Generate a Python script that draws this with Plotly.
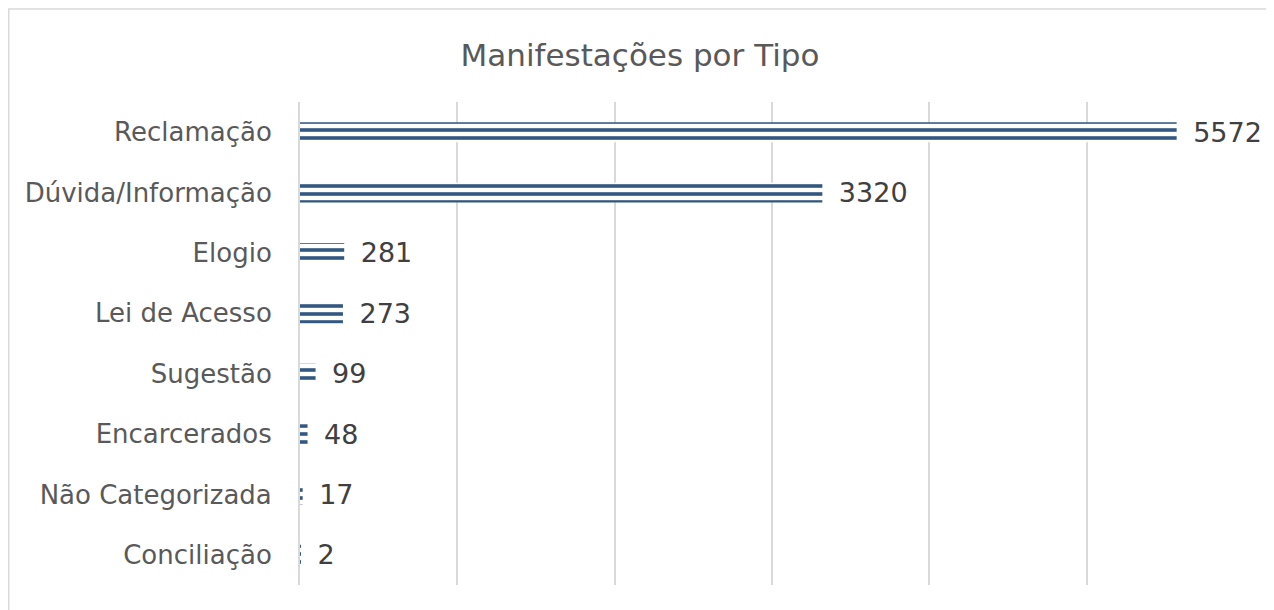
import plotly.graph_objects as go

categories = ["Reclamação", "Dúvida/Informação", "Elogio", "Lei de Acesso",
              "Sugestão", "Encarcerados", "Não Categorizada", "Conciliação"]
values = [5572, 3320, 281, 273, 99, 48, 17, 2]

BAR_COLOR = "#325780"
TEXT_COLOR = "#595959"
GRID = "#d9d9d9"
FONT = "DejaVu Sans"

# the page puts the figure 8px in from the top-left corner
OFF = 8
PLOT_L, PLOT_R, PLOT_T, PLOT_B = 300 - OFF, 1244 - OFF, 102 - OFF, 585 - OFF
PW, PH = PLOT_R - PLOT_L, PLOT_B - PLOT_T

fig = go.Figure(go.Bar(
    x=values,
    y=categories,
    orientation="h",
    width=0.33,
    marker=dict(
        color="white",
        line=dict(width=0),
        pattern=dict(shape="-", fgcolor=BAR_COLOR, bgcolor="white",
                     size=8, solidity=0.45, fillmode="replace", fgopacity=1),
    ),
    texttemplate="\u2002%{x}",
    textposition="outside",
    constraintext="none",
    textfont=dict(size=27, color="#404040", family=FONT),
    cliponaxis=False,
))

fig.update_layout(
    width=1274, height=610,
    margin=dict(l=PLOT_L, r=1274 - PLOT_R, t=PLOT_T, b=610 - PLOT_B),
    paper_bgcolor="white", plot_bgcolor="white",
    showlegend=False,
    font=dict(family=FONT, color=TEXT_COLOR, size=26),
    title=dict(text="Manifestações por Tipo", x=(640 - OFF) / 1274, xanchor="center",
               y=1 - (55 - OFF) / 610, yanchor="middle", yref="container",
               font=dict(size=31, color=TEXT_COLOR, family=FONT)),
    xaxis=dict(range=[0, 6000], dtick=1000, showticklabels=False,
               showgrid=True, gridcolor=GRID, gridwidth=2, zeroline=False,
               showline=False, fixedrange=True),
    yaxis=dict(autorange="reversed", showgrid=False, zeroline=False,
               showline=True, linecolor=GRID, linewidth=2,
               ticks="", ticklabelstandoff=21,
               tickfont=dict(size=26, color=TEXT_COLOR, family=FONT)),
    shapes=[dict(type="rect", xref="paper", yref="paper",
                 x0=(0.75 - PLOT_L) / PW, x1=(1265 - PLOT_L) / PW,
                 y0=-0.2, y1=(PLOT_B - 1) / PH,
                 line=dict(color=GRID, width=1.5), fillcolor="rgba(0,0,0,0)",
                 layer="below")],
)

fig.write_html("out.html")
